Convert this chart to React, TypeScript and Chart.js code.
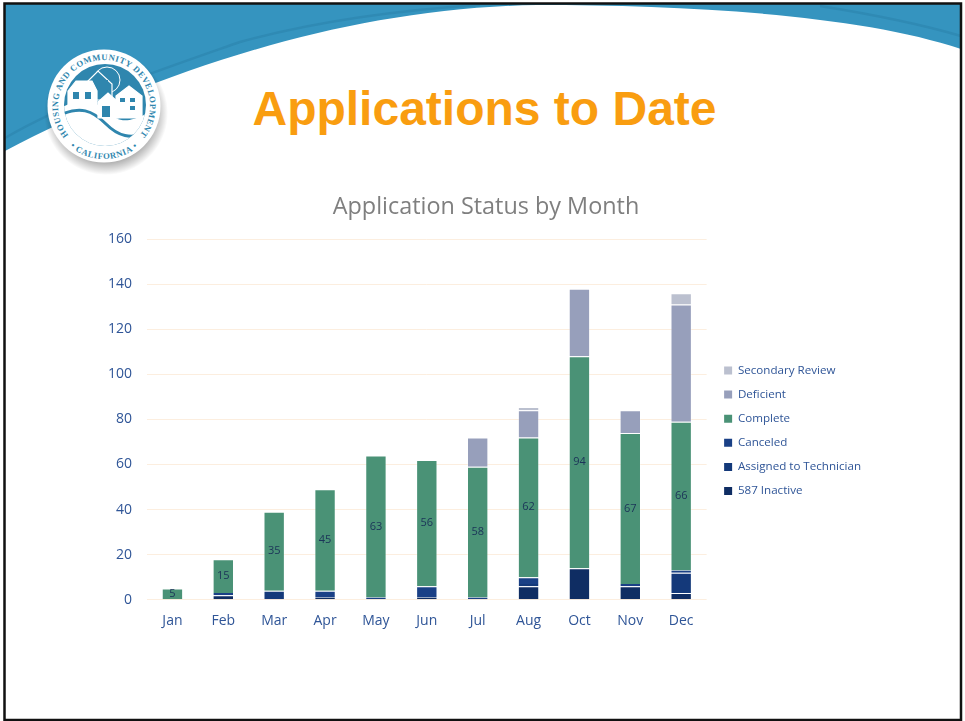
import React, { useEffect, useRef } from "react";
import { Chart, registerables } from "chart.js";

Chart.register(...registerables);

const months = ["Jan", "Feb", "Mar", "Apr", "May", "Jun", "Jul", "Aug", "Oct", "Nov", "Dec"];
const inactive587 = [0, 2, 0, 1, 0, 1, 0, 6, 14, 6, 3];
const assigned = [0, 0, 4, 0, 0, 0, 0, 1, 0, 0, 9];
const canceled = [0, 1, 0, 3, 1, 5, 1, 3, 0, 1, 1];
const complete = [5, 15, 35, 45, 63, 56, 58, 62, 94, 67, 66];
const deficient = [0, 0, 0, 0, 0, 0, 13, 12, 30, 10, 52];
const secondary = [0, 0, 0, 0, 0, 0, 0, 1, 0, 0, 5];

const FONT = "'Open Sans', sans-serif";
const TICK = "#2F5597";
const SEAL = "#2F86AE";

const completeLabels = {
  id: "completeLabels",
  afterLayout(chart: any) {
    // place the legend block beside the plot, at mid-height of the plot and x labels
    chart.legend.left += 5;
    chart.legend.right += 5;
    chart.legend.top += 23.5;
    chart.legend.bottom += 23.5;
  },
  afterDatasetsDraw(chart: any) {
    const { ctx } = chart;
    const idx = chart.data.datasets.findIndex((d: any) => d.label === "Complete");
    const meta = chart.getDatasetMeta(idx);
    ctx.save();
    ctx.font = "11px " + FONT;
    ctx.fillStyle = "#1B3358";
    ctx.textAlign = "center";
    ctx.textBaseline = "middle";
    meta.data.forEach((bar: any, i: number) => {
      const c = bar.getCenterPoint();
      ctx.fillText(String(complete[i]), c.x, c.y);
    });
    ctx.restore();
  },
};

function Header() {
  return (
    <svg width={965} height={721} style={{ position: "absolute", left: 0, top: 0 }}>
      <defs>
        <radialGradient id="sh" cx="0.5" cy="0.5" r="0.5">
          <stop offset="0.8" stopColor="#000" stopOpacity="0.3" />
          <stop offset="1" stopColor="#000" stopOpacity="0" />
        </radialGradient>
        <path id="ringTop" d="M 104 152 A 46 46 0 1 1 104.01 152" />
        <path id="ringBot" d="M 57 130.5 A 53 53 0 0 0 151 130.5" />
        <clipPath id="inner"><circle cx="105" cy="105" r="41" /></clipPath>
      </defs>
      <rect width={965} height={721} fill="#fff" />
      <path d="M5 4 H961 V49 C 860 15 690 5 537 5 C 340 8 150 75 5 151 Z" fill="#3594BF" />
      <path d="M5 138 C 70 100 160 70 240 42 C 320 20 400 10 480 5 M820 6 C 870 14 920 24 961 36" fill="none" stroke="#2F8AB4" strokeWidth="2.5" />
      <circle cx="106" cy="113" r="62" fill="url(#sh)" />
      <circle cx="104" cy="106" r="56.5" fill="#fff" />
      <circle cx="105" cy="105" r="41" fill={SEAL} />
      <g clipPath="url(#inner)">
        <path d="M60 108 C 80 98 95 100 108 112 C 120 124 130 122 150 112 V155 H60 Z" fill="#fff" />
        <path d="M60 115 C 80 106 92 110 106 124 C 118 136 130 140 150 132" fill="none" stroke={SEAL} strokeWidth="3" />
        <circle cx="107" cy="80" r="13" fill="none" stroke="#fff" strokeWidth="1" />
        <g fill={SEAL} stroke="#fff" strokeWidth="1.2">
          <path d="M85 84 L98 71 L112 84 V100 H85 Z" />
          <path d="M68 91 L76 81 L92 81 L97 91 V105 H68 Z" fill="#fff" />
          <path d="M98 102 L108 93 L118 102 V118 H98 Z" fill="#fff" />
          <path d="M116 96 L129 86 L142 96 V118 H116 Z" fill="#fff" />
        </g>
        <g fill={SEAL}>
          <rect x="73" y="92" width="6" height="7" />
          <rect x="85" y="92" width="6" height="7" />
          <rect x="95" y="80" width="5" height="6" />
          <rect x="103" y="80" width="5" height="6" />
          <rect x="120" y="98" width="5" height="4" />
          <rect x="130" y="98" width="5" height="4" />
          <rect x="130" y="106" width="5" height="4" />
          <rect x="102" y="106" width="8" height="11" />
        </g>
      </g>
      <text fontFamily="'Liberation Serif', serif" fontSize="8.6" fontWeight="700" fill={SEAL} letterSpacing="0.55">
        <textPath href="#ringTop" startOffset="50%" textAnchor="middle">HOUSING AND COMMUNITY DEVELOPMENT</textPath>
      </text>
      <text fontFamily="'Liberation Serif', serif" fontSize="8.6" fontWeight="700" fill={SEAL} letterSpacing="0.6">
        <textPath href="#ringBot" startOffset="50%" textAnchor="middle">• CALIFORNIA •</textPath>
      </text>
      <text x="484.5" y="125" textAnchor="middle" fontFamily="'Liberation Sans', sans-serif" fontWeight="700" fontSize="48" fill="#F99D10">Applications to Date</text>
      <rect x="4.5" y="3.5" width="956.5" height="716.5" fill="none" stroke="#111" strokeWidth="2.5" />
    </svg>
  );
}

export default function App() {
  const ref = useRef<HTMLCanvasElement>(null);
  useEffect(() => {
    const mk = (label: string, data: number[], color: string) => ({
      label, data, backgroundColor: color,
      borderColor: "rgba(255,255,255,0.25)",
      borderWidth: (c: any) =>
        c.raw === 0 ? 0 : c.raw < 2 ? { left: 1, right: 1, top: 0, bottom: 0 } : { left: 1, right: 1, top: 1, bottom: 0 },
      stack: "s",
      barPercentage: 0.42, categoryPercentage: 1,
    });
    const chart = new Chart(ref.current!, {
      type: "bar",
      data: {
        labels: months,
        datasets: [
          mk("587 Inactive", inactive587, "#0F2D63"),
          mk("Assigned to Technician", assigned, "#14397A"),
          mk("Canceled", canceled, "#1A4086"),
          mk("Complete", complete, "#4A9276"),
          mk("Deficient", deficient, "#979FBB"),
          mk("Secondary Review", secondary, "#BBC0CF"),
        ],
      },
      plugins: [completeLabels],
      options: {
        animation: false,
        responsive: false,
        layout: { padding: { left: 0, right: 14, top: 0, bottom: 45.5 } },
        plugins: {
          tooltip: { enabled: false },
          title: {
            display: true, text: "Application Status by Month", color: "#7F7F7F",
            font: { family: FONT, size: 23.4, weight: "normal" },
            padding: { top: 13, bottom: 18 },
          },
          legend: {
            position: "right", reverse: true,
            labels: {
              boxWidth: 8, boxHeight: 8, padding: 12.5, color: TICK,
              font: { family: FONT, size: 11.6 },
              generateLabels: (c: any) =>
                c.data.datasets.map((d: any, i: number) => ({
                  text: d.label, fillStyle: d.backgroundColor, strokeStyle: d.backgroundColor,
                  lineWidth: 0, hidden: false, datasetIndex: i, fontColor: TICK,
                })),
            },
          },
        },
        scales: {
          x: {
            stacked: true,
            grid: { display: false },
            border: { display: false },
            ticks: { color: TICK, font: { family: FONT, size: 14 }, maxRotation: 0, padding: 5 },
          },
          y: {
            stacked: true, min: 0, max: 160,
            grid: { color: "#FCEEDF", lineWidth: 1, drawTicks: false },
            border: { display: false },
            afterFit: (s: any) => { s.width = 41; },
            ticks: { stepSize: 20, color: TICK, font: { family: FONT, size: 14 }, padding: 15 },
          },
        },
      },
    } as any);
    return () => chart.destroy();
  }, []);
  return (
    <div style={{ position: "absolute", left: 0, top: 0, width: 965, height: 721, overflow: "hidden" }}>
      <Header />
      <canvas ref={ref} width={774} height={500} style={{ position: "absolute", left: 106, top: 180, display: "block" }} />
    </div>
  );
}
